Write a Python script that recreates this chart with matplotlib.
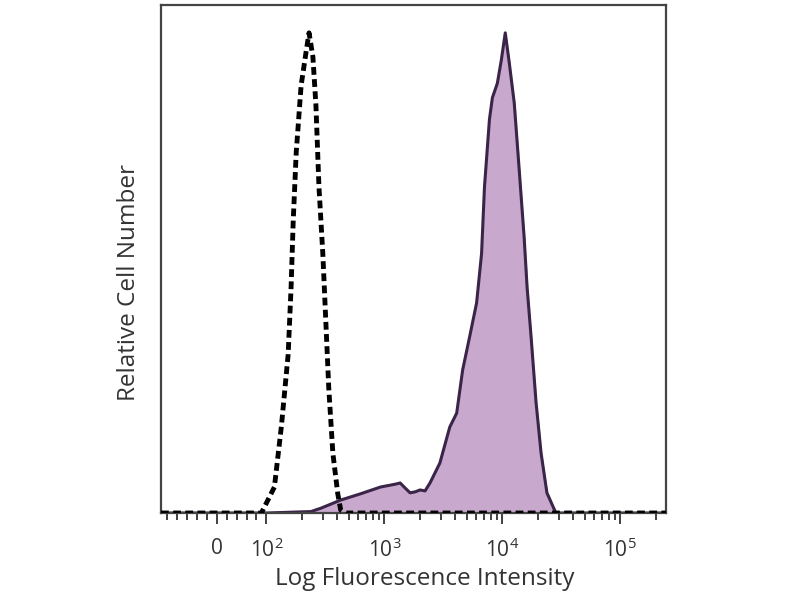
import matplotlib
matplotlib.use('Agg')
import matplotlib.pyplot as plt

# isotype control (dashed) histogram
ctrl_x = [-113, 0, 90, 117, 134, 153, 162, 169, 179, 197, 217, 230, 248, 263, 279, 301, 319, 338, 366, 403, 427, 470, 244000]
ctrl_y = [0, 0, 0, 5.4, 18, 33, 47, 61, 75, 89, 96, 100, 95, 85, 68, 54, 40, 26, 12.5, 4, 0.6, 0, 0]

# stained sample (filled) histogram
stain_x = [-113, 0, 100, 239, 290, 427, 629, 925, 1236, 1362, 1501, 1653, 1822, 2008, 2213, 2437,
           2955, 3586, 4104, 4611, 5284, 6052, 6668, 7063, 7780, 8240, 9076, 9817, 10590,
           11455, 12620, 13900, 15300, 16220, 17530, 19320, 21300, 23880, 28440, 244000]
stain_y = [0, 0, 0, 0.3, 1, 2.7, 4, 5.4, 6, 6.25, 5.2, 4.2, 4.4, 4.8, 4.6, 6.25,
           10.4, 17.9, 20.8, 29.8, 36.7, 43.75, 54, 68, 82, 86.5, 89.5, 94.4, 100,
           93.75, 85.4, 71.5, 57.5, 47, 36.7, 23, 12.5, 4.2, 0, 0]

major_ticks = [0, 100, 1000, 10000, 100000]
major_labels = ['0', '$10^2$', '$10^3$', '$10^4$', '$10^5$']
minor_ticks = [-100, -80, -60, -40, -20, 20, 40, 60, 80]
for d in [100, 1000, 10000, 100000]:
    for m in range(2, 10):
        if d * m < 244000:
            minor_ticks.append(d * m)

plt.rcParams['font.family'] = ['Open Sans', 'DejaVu Sans']
plt.rcParams['mathtext.fontset'] = 'custom'
plt.rcParams['mathtext.rm'] = 'Open Sans'
plt.rcParams['mathtext.it'] = 'Open Sans'

fig = plt.figure(figsize=(8, 6), dpi=100)
ax = fig.add_axes([161 / 800, 87 / 600, 505 / 800, 508 / 600])

ax.set_xscale('symlog', linthresh=100, linscale=0.378)
ax.fill_between(stain_x, stain_y, 0, color='#c8a8cd', zorder=1)
ax.plot(stain_x, stain_y, color='#3a2548', lw=2.2, zorder=2)
ax.plot(ctrl_x, ctrl_y, color='black', lw=3.5, linestyle=(0, (1.6, 0.9)), zorder=3)

ax.set_xlim(-113, 244000)
ax.set_ylim(0, 105.8)

ax.set_xticks(major_ticks)
ax.set_xticklabels(major_labels)
ax.set_xticks(minor_ticks, minor=True)
ax.tick_params(axis='x', which='major', length=8, width=1.3, colors='#333333',
               labelsize=15, pad=10, labelcolor='#333333')
ax.tick_params(axis='x', which='minor', length=5, width=1.3, colors='#333333')
ax.set_yticks([])

for s in ax.spines.values():
    s.set_color('#444444')
    s.set_linewidth(1.6)

ax.set_xlabel('Log Fluorescence Intensity', fontsize=17.5, color='#333333')
ax.set_ylabel('Relative Cell Number', fontsize=17.5, color='#333333')
ax.xaxis.set_label_coords(0.523, -0.106)
ax.yaxis.set_label_coords(-0.04, 0.453)

fig.savefig('out.png', dpi=100)
